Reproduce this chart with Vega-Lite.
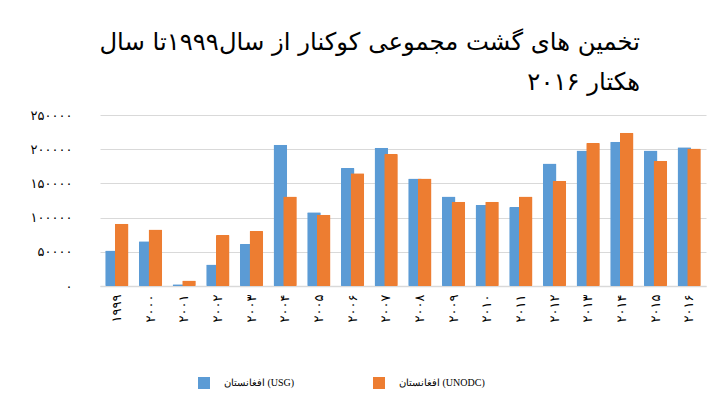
{
  "$schema": "https://vega.github.io/schema/vega-lite/v6.json",
  "autosize": {"type": "none"},
  "width": 606,
  "height": 171,
  "padding": {"left": 100, "top": 115, "right": 10, "bottom": 123},
  "background": "white",
  "config": {
    "font": "DejaVu Sans",
    "view": {"stroke": null}
  },
  "title": {
    "text": ["تخمین های گشت مجموعی کوکنار از سال۱۹۹۹تا سال", "هکتار ۲۰۱۶"],
    "anchor": "end",
    "dx": -66,
    "fontSize": 24.3,
    "fontWeight": "normal",
    "font": "DejaVu Sans",
    "color": "#000000",
    "lineHeight": 40,
    "offset": 14
  },
  "data": {
    "values": [
      {"year": "۱۹۹۹", "series": "افغانستان (USG)", "value": 52000},
      {"year": "۲۰۰۰", "series": "افغانستان (USG)", "value": 65500},
      {"year": "۲۰۰۱", "series": "افغانستان (USG)", "value": 2500},
      {"year": "۲۰۰۲", "series": "افغانستان (USG)", "value": 31500},
      {"year": "۲۰۰۳", "series": "افغانستان (USG)", "value": 61500},
      {"year": "۲۰۰۴", "series": "افغانستان (USG)", "value": 206500},
      {"year": "۲۰۰۵", "series": "افغانستان (USG)", "value": 108000},
      {"year": "۲۰۰۶", "series": "افغانستان (USG)", "value": 172500},
      {"year": "۲۰۰۷", "series": "افغانستان (USG)", "value": 202000},
      {"year": "۲۰۰۸", "series": "افغانستان (USG)", "value": 157000},
      {"year": "۲۰۰۹", "series": "افغانستان (USG)", "value": 131000},
      {"year": "۲۰۱۰", "series": "افغانستان (USG)", "value": 118500},
      {"year": "۲۰۱۱", "series": "افغانستان (USG)", "value": 115500},
      {"year": "۲۰۱۲", "series": "افغانستان (USG)", "value": 179000},
      {"year": "۲۰۱۳", "series": "افغانستان (USG)", "value": 198000},
      {"year": "۲۰۱۴", "series": "افغانستان (USG)", "value": 211000},
      {"year": "۲۰۱۵", "series": "افغانستان (USG)", "value": 198000},
      {"year": "۲۰۱۶", "series": "افغانستان (USG)", "value": 203000},
      {"year": "۱۹۹۹", "series": "افغانستان (UNODC)", "value": 91000},
      {"year": "۲۰۰۰", "series": "افغانستان (UNODC)", "value": 82500},
      {"year": "۲۰۰۱", "series": "افغانستان (UNODC)", "value": 8000},
      {"year": "۲۰۰۲", "series": "افغانستان (UNODC)", "value": 74500},
      {"year": "۲۰۰۳", "series": "افغانستان (UNODC)", "value": 80500},
      {"year": "۲۰۰۴", "series": "افغانستان (UNODC)", "value": 131000},
      {"year": "۲۰۰۵", "series": "افغانستان (UNODC)", "value": 104000},
      {"year": "۲۰۰۶", "series": "افغانستان (UNODC)", "value": 165000},
      {"year": "۲۰۰۷", "series": "افغانستان (UNODC)", "value": 193000},
      {"year": "۲۰۰۸", "series": "افغانستان (UNODC)", "value": 157000},
      {"year": "۲۰۰۹", "series": "افغانستان (UNODC)", "value": 123000},
      {"year": "۲۰۱۰", "series": "افغانستان (UNODC)", "value": 123000},
      {"year": "۲۰۱۱", "series": "افغانستان (UNODC)", "value": 131000},
      {"year": "۲۰۱۲", "series": "افغانستان (UNODC)", "value": 154000},
      {"year": "۲۰۱۳", "series": "افغانستان (UNODC)", "value": 209000},
      {"year": "۲۰۱۴", "series": "افغانستان (UNODC)", "value": 224000},
      {"year": "۲۰۱۵", "series": "افغانستان (UNODC)", "value": 183000},
      {"year": "۲۰۱۶", "series": "افغانستان (UNODC)", "value": 201000}
    ]
  },
  "mark": {"type": "bar", "width": 13.6, "cornerRadius": 1},
  "encoding": {
    "x": {
      "field": "year",
      "type": "nominal",
      "sort": null,
      "scale": {"paddingInner": 0.424, "paddingOuter": 0.212},
      "axis": {
        "title": null,
        "labelAngle": -90,
        "labelFontSize": 13,
        "labelColor": "#000000",
        "labelPadding": 8,
        "ticks": false,
        "domainColor": "#D9D9D9",
        "domainWidth": 1.5,
        "grid": false
      }
    },
    "xOffset": {
      "field": "series",
      "type": "nominal",
      "sort": ["افغانستان (USG)", "افغانستان (UNODC)"]
    },
    "y": {
      "field": "value",
      "type": "quantitative",
      "scale": {"domain": [0, 250000], "nice": false},
      "axis": {
        "title": null,
        "values": [0, 50000, 100000, 150000, 200000, 250000],
        "labelExpr": "datum.value == 0 ? '۰' : datum.value == 50000 ? '۵۰۰۰۰' : datum.value == 100000 ? '۱۰۰۰۰۰' : datum.value == 150000 ? '۱۵۰۰۰۰' : datum.value == 200000 ? '۲۰۰۰۰۰' : '۲۵۰۰۰۰'",
        "labelFontSize": 13,
        "labelColor": "#000000",
        "labelPadding": 28,
        "domain": false,
        "ticks": false,
        "gridColor": "#D9D9D9",
        "gridWidth": 1
      }
    },
    "color": {
      "field": "series",
      "type": "nominal",
      "sort": ["افغانستان (USG)", "افغانستان (UNODC)"],
      "scale": {"domain": ["افغانستان (USG)", "افغانستان (UNODC)"], "range": ["#5B9BD5", "#ED7D31"]},
      "legend": {
        "title": null,
        "orient": "none",
        "direction": "horizontal",
        "legendX": 98,
        "legendY": 262,
        "symbolType": "square",
        "symbolSize": 144,
        "symbolStrokeWidth": 0,
        "symbolOpacity": 1,
        "labelFont": "Liberation Serif",
        "labelFontSize": 10,
        "labelColor": "#000000",
        "labelOffset": 14,
        "columnPadding": 78
      }
    }
  }
}
